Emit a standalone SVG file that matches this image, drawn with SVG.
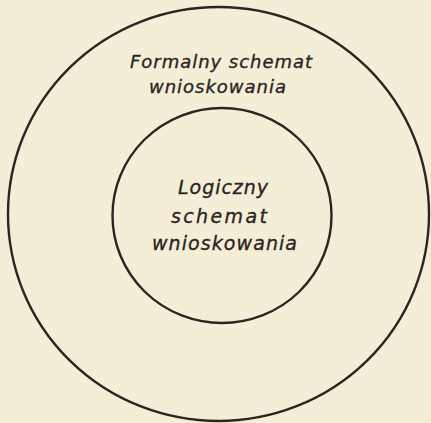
<svg xmlns="http://www.w3.org/2000/svg" width="431" height="423" viewBox="0 0 431 423">
  <style>
    .ring { fill: none; stroke: #2a2622; stroke-width: 2.4; }
    .lbl { font-family: "DejaVu Sans", "Liberation Sans", sans-serif; font-style: italic; font-size: 18px; fill: #2a2622; stroke: #2a2622; stroke-width: 0.35; }
    .in { font-size: 19px; }
  </style>
  <rect x="0" y="0" width="431" height="423" fill="#f5eed6"/>
  <g id="outer">
    <ellipse class="ring" cx="218.5" cy="214" rx="210.5" ry="207"/>
    <text class="lbl" x="130" y="68" textLength="182" lengthAdjust="spacing">Formalny schemat</text>
    <text class="lbl" x="149" y="93" textLength="137" lengthAdjust="spacing">wnioskowania</text>
  </g>
  <g id="inner">
    <ellipse class="ring" cx="222" cy="215.5" rx="109.5" ry="107.5"/>
    <text class="lbl in" x="178" y="194" textLength="90" lengthAdjust="spacing">Logiczny</text>
    <text class="lbl in" x="171" y="223" textLength="96" lengthAdjust="spacing">schemat</text>
    <text class="lbl in" x="152" y="250" textLength="145" lengthAdjust="spacing">wnioskowania</text>
  </g>
</svg>
